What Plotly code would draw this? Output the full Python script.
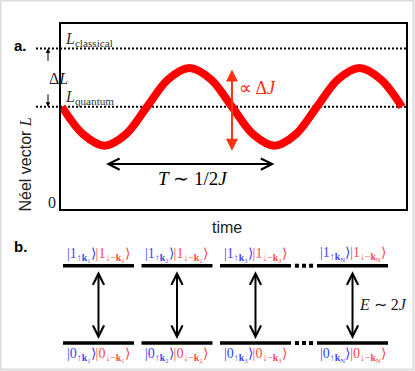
import plotly.graph_objects as go

# panel a: Neel vector oscillation, sampled every 1/8 period (t in units of T)
t_vals = [0, 0.125, 0.25, 0.375, 0.5, 0.625, 0.75, 0.875, 1.0,
          1.125, 1.25, 1.375, 1.5, 1.625, 1.75, 1.875, 2.0]
L_vals = [1.0, 0.73, 0.62, 0.73, 1.0, 1.27, 1.38, 1.27, 1.0,
          0.73, 0.62, 0.73, 1.0, 1.27, 1.38, 1.27, 1.0]
L_quantum = 1.0
L_classical = 1.57
osc_min, osc_max = 0.62, 1.38
period_start, period_end = 0.25, 1.25

# panel b: magnon pair modes and their two levels (energy in units of J)
modes = ["1", "2", "3", "N"]
levels = [0, 2]

W, H = 415, 371
BLUE = "#4040ff"
PINK = "#ff4848"
SERIF = "Liberation Serif"
SANS = "Liberation Sans"

fig = go.Figure()

fig.add_trace(go.Scatter(
    x=t_vals, y=L_vals, mode="lines",
    line=dict(color="#ff0000", width=8, shape="spline"),
    xaxis="x", yaxis="y", hoverinfo="skip"))

# mode positions, with an extra gap before k_N for the dots
gap = 0.236
half = 0.452
pos = [i + (gap if m == "N" else 0) for i, m in enumerate(modes)]

bx, by = [], []
for p in pos:
    for e in levels:
        bx += [p - half, p + half, None]
        by += [e, e, None]
fig.add_trace(go.Scatter(
    x=bx, y=by, mode="lines", line=dict(color="black", width=3.5),
    xaxis="x2", yaxis="y2", hoverinfo="skip"))

mid = (pos[2] + pos[3]) / 2
dx, dy = [], []
for e in levels:
    for k in (-1, 0, 1):
        dx.append(mid + k * 0.09)
        dy.append(e)
fig.add_trace(go.Scatter(
    x=dx, y=dy, mode="markers",
    marker=dict(symbol="square", size=4, color="black"),
    xaxis="x2", yaxis="y2", hoverinfo="skip"))

ann = []

def add(**kw):
    kw.setdefault("showarrow", False)
    ann.append(kw)

# panel a arrows
add(x=period_end, y=0.44, ax=period_start, ay=0.44, xref="x", yref="y",
    axref="x", ayref="y", showarrow=True, arrowside="end+start",
    arrowhead=5, arrowsize=1.1, arrowwidth=2, arrowcolor="black", text="")
add(x=1.0, y=osc_min - 0.05, ax=1.0, ay=osc_max, xref="x", yref="y",
    axref="x", ayref="y", showarrow=True, arrowside="end+start",
    arrowhead=2, arrowsize=1.2, arrowwidth=2, arrowcolor="#ff3311", text="")
add(x=48 / W, y=L_classical, xref="paper", yref="y", ax=0, ay=14,
    showarrow=True, arrowhead=2, arrowsize=0.9, arrowwidth=1,
    arrowcolor="black", text="")
add(x=48 / W, y=L_quantum, xref="paper", yref="y", ax=0, ay=-14,
    showarrow=True, arrowhead=2, arrowsize=0.9, arrowwidth=1,
    arrowcolor="black", text="")

add(x=0.77, y=0.44, xref="x", yref="y", yanchor="top", yshift=-2,
    text="<i>T</i> ∼ 1/2<i>J</i>", font=dict(family=SERIF, size=19, color="black"))
add(x=1.0, y=1.18, xref="x", yref="y", xanchor="left", xshift=5,
    text="∝ Δ<i>J</i>", font=dict(family=SERIF, size=18, color="#ff2a1a"))
add(x=0, y=L_classical, xref="x", yref="y", xanchor="left", yanchor="bottom",
    xshift=1, yshift=-2, text="<i>L</i><sub>classical</sub>",
    font=dict(family=SERIF, size=16, color="#333333"))
add(x=0, y=L_quantum, xref="x", yref="y", xanchor="left", yanchor="bottom",
    xshift=1, yshift=-2, text="<i>L</i><sub>quantum</sub>",
    font=dict(family=SERIF, size=16, color="#333333"))
add(x=47 / W, y=(L_quantum + L_classical) / 2, xref="paper", yref="y", yshift=-1,
    text="Δ<i>L</i>", font=dict(family=SERIF, size=16, color="#222222"))
add(x=0, y=0, xref="paper", yref="y", xanchor="right", yanchor="bottom",
    xshift=58, yshift=-4, text="0", font=dict(family=SERIF, size=16, color="#222222"))
add(x=14 / W, y=1 - 116 / H, xref="paper", yref="paper", textangle=-90,
    text='Néel vector <span style="font-family:Liberation Serif"><i>L</i></span>',
    font=dict(family=SANS, size=16, color="#222222"))
add(x=227 / W, y=1 - 227 / H, xref="paper", yref="paper",
    text="time", font=dict(family=SANS, size=16, color="#222222"))
add(x=12 / W, y=1 - 35 / H, xref="paper", yref="paper", xanchor="left",
    text="<b>a.</b>", font=dict(family=SANS, size=15, color="black"))
add(x=12 / W, y=1 - 257 / H, xref="paper", yref="paper", xanchor="left",
    text="<b>b.</b>", font=dict(family=SANS, size=15, color="black"))

# panel b arrows and kets
def sub_k(m):
    if m == "N":
        return "<b>k</b><sub>N</sub>"
    return "<b>k</b>" + "₀₁₂₃₄₅₆₇₈₉"[int(m)]

for p, m in zip(pos, modes):
    add(x=p, y=levels[0], ax=p, ay=levels[1], xref="x2", yref="y2",
        axref="x2", ayref="y2", showarrow=True, arrowside="end+start",
        arrowhead=5, arrowsize=1.1, arrowwidth=2, arrowcolor="black",
        standoff=4, startstandoff=4, text="")
    for n, e in zip(("0", "1"), levels):
        txt = (f'<span style="color:{BLUE}">|{n}<sub>↑{sub_k(m)}</sub>⟩</span>'
               f'<span style="color:{PINK}">|{n}<sub>↓−{sub_k(m)}</sub>⟩</span>')
        add(x=p, y=e, xref="x2", yref="y2",
            yanchor="bottom" if e > 0 else "top", yshift=1 if e > 0 else -1,
            text=txt, font=dict(family=SERIF, size=14))

add(x=pos[-1], y=1, xref="x2", yref="y2", xanchor="left", xshift=4,
    text="<i>E</i> ∼ 2<i>J</i>", font=dict(family=SERIF, size=16, color="#222222"))

box = dict(showline=True, mirror=True, linewidth=2, linecolor="black",
           showgrid=False, zeroline=False, showticklabels=False, ticks="")
hidden = dict(visible=False, showgrid=False, zeroline=False)

fig.update_layout(
    width=W, height=H,
    margin=dict(l=0, r=0, t=0, b=0),
    paper_bgcolor="white", plot_bgcolor="white",
    showlegend=False,
    xaxis=dict(domain=[61 / W, 406 / W], range=[-0.006, 2.024], anchor="y", **box),
    yaxis=dict(domain=[1 - 209 / H, 1 - 24 / H], range=[0, 1.81], anchor="x", **box),
    xaxis2=dict(domain=[63 / W, 388 / W], range=[-half, pos[-1] + half],
                anchor="y2", **hidden),
    yaxis2=dict(domain=[1 - 362 / H, 1 - 246 / H], range=[-0.49, 2.51],
                anchor="x2", **hidden),
    annotations=ann,
    shapes=[
        dict(type="line", xref="paper", yref="y", x0=36 / W, x1=406 / W,
             y0=L_classical, y1=L_classical, line=dict(color="black", width=2, dash="2px,2px")),
        dict(type="line", xref="paper", yref="y", x0=36 / W, x1=406 / W,
             y0=L_quantum, y1=L_quantum, line=dict(color="black", width=2, dash="2px,2px"),
             layer="below"),
        dict(type="rect", xref="paper", yref="paper", x0=0.5 / W, x1=1 - 1.5 / W,
             y0=1.5 / H, y1=1 - 0.5 / H, line=dict(color="#dcdcdc", width=2)),
    ],
)

fig.write_html("out.html", config={"displayModeBar": False},
               post_script="document.body.style.margin='0';"
               "document.body.style.overflow='hidden';")
